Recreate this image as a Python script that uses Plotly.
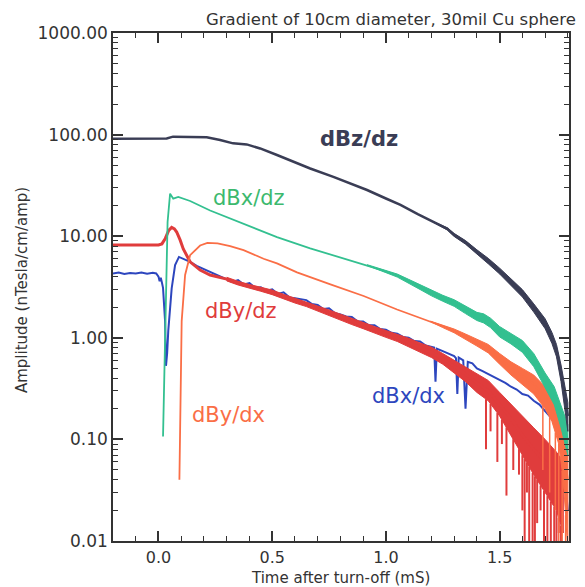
import numpy as np
import plotly.graph_objects as go

# ---------------- data (time in mS, amplitude in nTesla/cm/amp) ----------------
bz_t = [-0.2, -0.1, 0.0, 0.036, 0.064, 0.12, 0.183, 0.212, 0.271, 0.328, 0.388, 0.447, 0.521,
        0.593, 0.667, 0.769, 0.85, 0.917, 1.0, 1.064, 1.14, 1.209, 1.27, 1.3, 1.35, 1.4, 1.45,
        1.5, 1.55, 1.6, 1.65, 1.7, 1.73, 1.75, 1.77, 1.78, 1.79, 1.8]
bz_v = [91, 91.5, 91, 91.5, 95.5, 95.5, 95, 94, 88.6, 82, 80.1, 73.1, 63, 54, 46.4, 38.4, 32.5,
        28.5, 23.5, 20.3, 16.5, 13.8, 11.8, 10.3, 8.7, 7.0, 5.7, 4.55, 3.55, 2.75, 1.97, 1.38,
        1.0, 0.75, 0.45, 0.32, 0.23, 0.17]
bz_band_t = [1.209, 1.27, 1.3, 1.35, 1.4, 1.45, 1.5, 1.55, 1.6, 1.65, 1.7, 1.73, 1.75, 1.77, 1.78,
             1.79, 1.8]
bz_band_hi = [13.9, 12.1, 10.65, 9.05, 7.35, 6.05, 4.85, 3.82, 2.98, 2.16, 1.54, 1.13, 0.86, 0.54,
              0.4, 0.3, 0.23]
bz_band_lo = [13.7, 11.5, 9.95, 8.35, 6.65, 5.35, 4.25, 3.28, 2.52, 1.79, 1.23, 0.88, 0.65, 0.37,
              0.25, 0.17, 0.12]

bxz_t = [0.02, 0.033, 0.04, 0.051, 0.065, 0.087, 0.139, 0.227, 0.374, 0.521, 0.667, 0.769, 0.917,
         0.95, 1.0, 1.05, 1.1, 1.15, 1.2, 1.25, 1.3, 1.35, 1.4, 1.43, 1.46, 1.5, 1.55, 1.6, 1.65,
         1.7, 1.74, 1.77, 1.8]
bxz_v = [0.107, 2.3, 13.8, 26.2, 23.4, 24.3, 22.2, 17.9, 13.3, 9.8, 7.6, 6.5, 5.2, 4.9, 4.5, 4.1,
         3.6, 3.15, 2.75, 2.45, 2.2, 1.88, 1.62, 1.55, 1.4, 1.15, 0.98, 0.82, 0.6, 0.38, 0.27,
         0.17, 0.1]
bxz_band_t = [0.917, 0.95, 1.0, 1.05, 1.1, 1.15, 1.2, 1.25, 1.3, 1.35, 1.4, 1.43, 1.46, 1.5, 1.55,
              1.6, 1.65, 1.7, 1.74, 1.77, 1.8]
bxz_band_hi = [5.25, 5.0, 4.62, 4.24, 3.76, 3.32, 2.92, 2.62, 2.37, 2.04, 1.78, 1.72, 1.56, 1.29,
               1.11, 0.94, 0.7, 0.45, 0.33, 0.22, 0.14]
bxz_band_lo = [5.15, 4.8, 4.38, 3.96, 3.45, 2.99, 2.59, 2.29, 2.04, 1.73, 1.48, 1.4, 1.26, 1.02,
               0.87, 0.72, 0.52, 0.32, 0.22, 0.13, 0.07]

byz_t = [-0.2, -0.1, 0.0, 0.015, 0.03, 0.045, 0.058, 0.07, 0.08, 0.095, 0.109, 0.139, 0.183,
         0.227, 0.3, 0.35, 0.4, 0.45, 0.5, 0.55, 0.6, 0.65, 0.7, 0.75, 0.8, 0.85, 0.9, 0.95, 1.0,
         1.05, 1.1, 1.15, 1.2, 1.25, 1.3, 1.35, 1.4, 1.45, 1.5, 1.55, 1.6, 1.65, 1.7, 1.75, 1.78]
byz_v = [8.2, 8.25, 8.2, 8.4, 9.5, 11.4, 12.2, 11.8, 11.0, 9.2, 7.5, 5.6, 4.64, 4.15, 3.78, 3.45,
         3.2, 3.0, 2.8, 2.55, 2.32, 2.15, 1.95, 1.77, 1.6, 1.45, 1.32, 1.2, 1.09, 1.0, 0.9, 0.8,
         0.72, 0.62, 0.52, 0.44, 0.36, 0.3, 0.22, 0.16, 0.11, 0.08, 0.06, 0.045, 0.03]
byz_band_t = [0.3, 0.35, 0.4, 0.45, 0.5, 0.55, 0.6, 0.65, 0.7, 0.75, 0.8, 0.85, 0.9, 0.95, 1.0,
              1.05, 1.1, 1.15, 1.2, 1.25, 1.3, 1.35, 1.4, 1.45, 1.5, 1.55, 1.6, 1.65, 1.7, 1.75,
              1.78]
byz_band_hi = [3.94, 3.6, 3.35, 3.14, 2.95, 2.68, 2.45, 2.28, 2.07, 1.88, 1.71, 1.55, 1.42, 1.29,
               1.18, 1.09, 0.99, 0.89, 0.81, 0.7, 0.6, 0.52, 0.44, 0.38, 0.29, 0.22, 0.17, 0.13,
               0.1, 0.075, 0.06]
byz_band_lo = [3.63, 3.31, 3.06, 2.87, 2.66, 2.42, 2.2, 2.03, 1.84, 1.66, 1.5, 1.35, 1.23, 1.12,
               1.01, 0.92, 0.82, 0.72, 0.64, 0.55, 0.45, 0.37, 0.29, 0.24, 0.17, 0.11, 0.07, 0.045,
               0.03, 0.02, 0.012]
byz_spike_t = [1.44, 1.46, 1.49, 1.51, 1.53, 1.56, 1.585, 1.6, 1.61, 1.62, 1.63, 1.645, 1.655,
               1.665, 1.68, 1.695, 1.71, 1.725, 1.74, 1.75, 1.76, 1.77]
byz_spike_v = [0.08, 0.12, 0.06, 0.09, 0.028, 0.05, 0.045, 0.02, 0.008, 0.03, 0.008, 0.008, 0.008,
               0.015, 0.02, 0.008, 0.008, 0.008, 0.008, 0.008, 0.012, 0.008]

byx_t = [0.092, 0.095, 0.098, 0.102, 0.117, 0.139, 0.183, 0.215, 0.26, 0.315, 0.374, 0.462, 0.521,
         0.609, 0.756, 0.902, 1.049, 1.196, 1.25, 1.3, 1.35, 1.4, 1.45, 1.5, 1.55, 1.6, 1.65, 1.7,
         1.73, 1.76, 1.78, 1.8]
byx_v = [0.04, 0.15, 0.33, 1.46, 4.15, 6.5, 8.1, 8.6, 8.5, 8.0, 7.3, 6.0, 5.4, 4.4, 3.35, 2.58,
         1.9, 1.45, 1.3, 1.17, 1.03, 0.9, 0.78, 0.62, 0.5, 0.42, 0.35, 0.26, 0.21, 0.15, 0.09, 0.04]
byx_band_t = [1.196, 1.25, 1.3, 1.35, 1.4, 1.45, 1.5, 1.55, 1.6, 1.65, 1.7, 1.73, 1.76, 1.78, 1.8]
byx_band_hi = [1.46, 1.34, 1.22, 1.09, 0.97, 0.86, 0.7, 0.58, 0.5, 0.43, 0.33, 0.28, 0.21, 0.15,
               0.1]
byx_band_lo = [1.44, 1.26, 1.12, 0.97, 0.83, 0.71, 0.55, 0.43, 0.35, 0.28, 0.2, 0.15, 0.09, 0.04,
               0.008]
byx_spike_t = [1.69, 1.72, 1.745, 1.76, 1.775, 1.79]
byx_spike_v = [0.05, 0.03, 0.02, 0.008, 0.008, 0.008]

bxx_t = [-0.2, -0.175, -0.15, -0.125, -0.1, -0.075, -0.05, -0.025, -0.01, 0.0, 0.005, 0.01, 0.015,
         0.02, 0.029, 0.033, 0.038, 0.043, 0.058, 0.073, 0.09, 0.124, 0.139, 0.168, 0.212, 0.26,
         0.3, 0.325, 0.35, 0.375, 0.4, 0.425, 0.45, 0.475, 0.5, 0.525, 0.55, 0.575, 0.6, 0.625,
         0.65, 0.675, 0.7, 0.725, 0.75, 0.775, 0.8, 0.825, 0.85, 0.875, 0.9, 0.925, 0.95, 0.975,
         1.0, 1.025, 1.05, 1.075, 1.1, 1.125, 1.15, 1.175, 1.2, 1.212, 1.218, 1.224, 1.25, 1.275,
         1.3, 1.308, 1.314, 1.32, 1.34, 1.35, 1.36, 1.38, 1.4, 1.425, 1.45, 1.475, 1.5, 1.525,
         1.55, 1.575, 1.6, 1.625, 1.65, 1.675, 1.7, 1.73, 1.76, 1.78, 1.8]
bxx_v = [4.3, 4.4, 4.25, 4.35, 4.3, 4.4, 4.28, 4.36, 4.3, 4.0, 3.6, 3.9, 3.5, 3.1, 1.46, 0.53, 0.7,
         1.17, 3.07, 5.2, 6.25, 5.8, 5.6, 5.1, 4.6, 4.1, 3.8, 3.55, 3.7, 3.35, 3.45, 3.1, 3.15,
         2.9, 3.0, 2.7, 2.8, 2.5, 2.45, 2.38, 2.35, 2.15, 2.1, 1.92, 1.95, 1.75, 1.7, 1.62, 1.6,
         1.45, 1.45, 1.33, 1.33, 1.22, 1.2, 1.12, 1.1, 1.02, 1.0, 0.93, 0.92, 0.84, 0.82, 0.8,
         0.37, 0.78, 0.74, 0.7, 0.66, 0.63, 0.28, 0.64, 0.6, 0.2, 0.58, 0.56, 0.5, 0.47, 0.44,
         0.41, 0.38, 0.36, 0.33, 0.31, 0.28, 0.27, 0.24, 0.22, 0.19, 0.16, 0.11, 0.06, 0.02]

labels = ["dBz/dz", "dBx/dz", "dBy/dz", "dBy/dx", "dBx/dx"]
label_t = [0.88, 0.40, 0.363, 0.31, 1.10]
label_v = [91.0, 24.0, 1.83, 0.172, 0.265]

ytick_vals = [0.01, 0.1, 1, 10, 100, 1000]
ytick_text = ["0.01", "0.10", "1.00", "10.00", "100.00", "1000.00"]
xtick_vals = [0.0, 0.5, 1.0, 1.5]
xtick_text = ["0.0", "0.5", "1.0", "1.5"]

# ---------------- styling ----------------
C_NAVY = "#3a3d55"
C_GREEN = "#33c090"
C_GREEN_TXT = "#3cb96e"
C_RED = "#e03c3c"
C_ORANGE = "#fa6e46"
C_BLUE = "#2d46be"
AX = "#333333"
FONT = "DejaVu Sans"

fig = go.Figure()


def add_band(t, lo, hi, color):
    fig.add_trace(go.Scatter(x=list(t) + list(t)[::-1], y=list(hi) + list(lo)[::-1],
                             mode="lines", fill="toself", fillcolor=color,
                             line=dict(color=color, width=1), hoverinfo="skip",
                             showlegend=False))


def add_spikes(st, sv, bt, blo, color, width):
    top = 10 ** np.interp(st, bt, np.log10(blo))
    xs, ys = [], []
    for a, b, c in zip(st, top, sv):
        xs += [a, a, None]
        ys += [b, c, None]
    fig.add_trace(go.Scatter(x=xs, y=ys, mode="lines", line=dict(color=color, width=width),
                             hoverinfo="skip", showlegend=False))


def add_line(t, v, color, width):
    fig.add_trace(go.Scatter(x=t, y=v, mode="lines", line=dict(color=color, width=width),
                             showlegend=False))


# blue (underneath red)
add_line(bxx_t, bxx_v, C_BLUE, 2)
# red
add_band(byz_band_t, byz_band_lo, byz_band_hi, C_RED)
add_line(byz_t, byz_v, C_RED, 3)
add_spikes(byz_spike_t, byz_spike_v, byz_band_t, byz_band_lo, C_RED, 2)
# orange
add_band(byx_band_t, byx_band_lo, byx_band_hi, C_ORANGE)
add_line(byx_t, byx_v, C_ORANGE, 1.8)
add_spikes(byx_spike_t, byx_spike_v, byx_band_t, byx_band_lo, C_ORANGE, 1.5)
# green
add_band(bxz_band_t, bxz_band_lo, bxz_band_hi, C_GREEN)
add_line(bxz_t, bxz_v, C_GREEN, 1.8)
# navy
add_band(bz_band_t, bz_band_lo, bz_band_hi, C_NAVY)
add_line(bz_t, bz_v, C_NAVY, 2.5)

label_colors = [C_NAVY, C_GREEN_TXT, C_RED, C_ORANGE, C_BLUE]
for txt, tt, vv, col in zip(labels, label_t, label_v, label_colors):
    fig.add_annotation(x=tt, y=np.log10(vv), xref="x", yref="y", text=txt, showarrow=False,
                       font=dict(family=FONT, size=21, color=col,
                                 weight="bold" if txt == "dBz/dz" else "normal"),
                       xanchor="center", yanchor="middle")

fig.add_annotation(text="Gradient of 10cm diameter, 30mil Cu sphere", xref="paper", yref="paper",
                   x=1.0197, y=1.049, xanchor="right", yanchor="top", showarrow=False,
                   font=dict(family=FONT, size=16.5, color=AX))
fig.add_annotation(text="Time after turn-off (mS)", xref="paper", yref="paper",
                   x=0.498, y=-0.073, xanchor="center", yanchor="middle", showarrow=False,
                   font=dict(family=FONT, size=15, color=AX))
fig.add_annotation(text="Amplitude (nTesla/cm/amp)", xref="paper", yref="paper",
                   x=-0.1996, y=0.494, xanchor="center", yanchor="middle", showarrow=False,
                   textangle=-90, font=dict(family=FONT, size=15, color=AX))

fig.update_xaxes(range=[-0.2, 1.805], tickvals=xtick_vals, ticktext=xtick_text,
                 ticks="inside", ticklen=10, tickwidth=1.5, tickcolor=AX,
                 ticklabelstandoff=1,
                 minor=dict(dtick=0.1, tick0=0, ticks="inside", ticklen=5, tickwidth=1.2,
                            tickcolor=AX, showgrid=False),
                 showline=True, linecolor=AX, linewidth=1.5, mirror="ticks",
                 showgrid=False, zeroline=False,
                 tickfont=dict(family=FONT, size=16, color=AX))
fig.update_yaxes(type="log", range=[-2, 3], tickvals=ytick_vals, ticktext=ytick_text,
                 ticks="inside", ticklen=10, tickwidth=1.5, tickcolor=AX,
                 minor=dict(dtick="D1", ticks="inside", ticklen=5, tickwidth=1.2,
                            tickcolor=AX, showgrid=False),
                 showline=True, linecolor=AX, linewidth=1.5, mirror="ticks",
                 showgrid=False, zeroline=False,
                 tickfont=dict(family=FONT, size=17, color=AX))

# the page has an 8px body margin, so the figure is sized to fit the window
fig.update_layout(width=577, height=579, margin=dict(l=105, r=16, t=25, b=46),
                  paper_bgcolor="white", plot_bgcolor="white", showlegend=False)

fig.write_html("out.html")
